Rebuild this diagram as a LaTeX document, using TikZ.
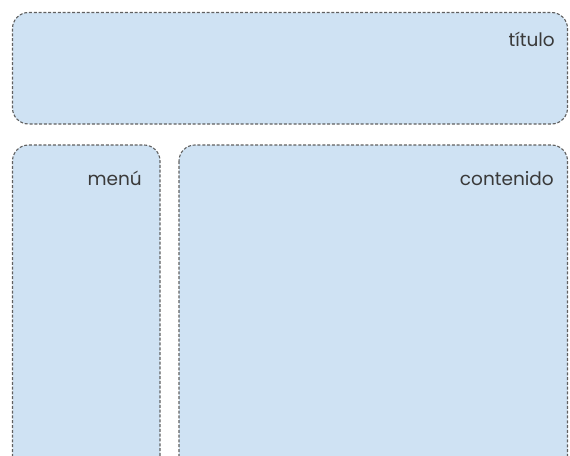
\documentclass[tikz,border=0pt]{standalone}
\usepackage{fontspec}
\setmainfont{Poppins}
\definecolor{boxfill}{HTML}{CFE2F3}
\definecolor{boxline}{HTML}{606060}
\definecolor{txt}{HTML}{3A3A3A}
\begin{document}
\begin{tikzpicture}[x=1pt,y=-1pt,
  region/.style={fill=boxfill,draw=boxline,line width=1.1pt,dash pattern=on 3pt off 1.8pt,rounded corners=16pt},
  lbl/.style={anchor=base east,font=\fontsize{18.5}{22}\selectfont,text=txt,inner sep=0pt}]
\useasboundingbox (0,0) rectangle (570,455);
\clip (0,0) rectangle (570,455);
\draw[region] (12.5,12.5) rectangle (567.5,124);
\draw[region] (12.5,145) rectangle (160,472);
\draw[region] (179,145) rectangle (567.5,472);
\node[lbl] (t) at (555,46) {título};
\node[lbl] (m) at (142,185) {menú};
\node[lbl] (c) at (554,185) {contenido};
\end{tikzpicture}
\end{document}
